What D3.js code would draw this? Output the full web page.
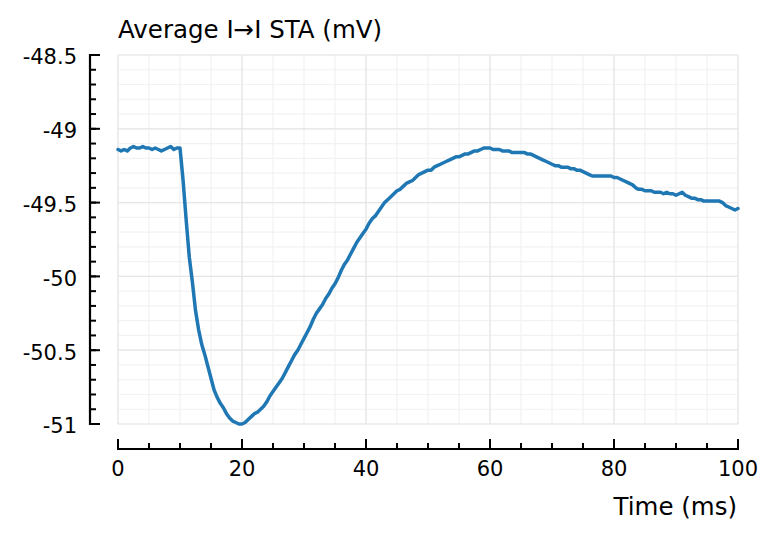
<!DOCTYPE html>
<html>
<head>
<meta charset="utf-8">
<script src="https://cdn.jsdelivr.net/npm/d3@7"></script>
<style>
  html, body { margin: 0; padding: 0; background: #fff; }
  svg { display: block; }
  text { font-family: "DejaVu Sans", sans-serif; fill: #000; }
</style>
</head>
<body>
<svg id="chart" width="779" height="540"></svg>
<script>
// ---- data ----
const title = "Average I\u2192I STA (mV)";
const xLabel = "Time (ms)";
const timeStep = 0.5; // ms between samples
const staValues = [
  -49.14,-49.15,-49.14,-49.15,-49.13,-49.12,-49.13,-49.13,-49.12,-49.13,
  -49.13,-49.14,-49.13,-49.14,-49.15,-49.14,-49.13,-49.12,-49.14,-49.13,
  -49.13,-49.35,-49.62,-49.87,-50.04,-50.23,-50.36,-50.46,-50.53,-50.61,
  -50.69,-50.77,-50.82,-50.86,-50.89,-50.93,-50.96,-50.98,-50.99,-51.00,
  -51.00,-50.99,-50.97,-50.95,-50.93,-50.92,-50.90,-50.88,-50.85,-50.81,
  -50.78,-50.75,-50.72,-50.69,-50.65,-50.61,-50.57,-50.53,-50.50,-50.46,
  -50.42,-50.38,-50.34,-50.29,-50.25,-50.22,-50.19,-50.15,-50.12,-50.08,
  -50.05,-50.01,-49.96,-49.92,-49.89,-49.85,-49.81,-49.77,-49.74,-49.71,
  -49.68,-49.64,-49.61,-49.59,-49.56,-49.53,-49.50,-49.48,-49.46,-49.44,
  -49.42,-49.41,-49.39,-49.37,-49.36,-49.35,-49.33,-49.31,-49.30,-49.29,
  -49.28,-49.28,-49.26,-49.25,-49.24,-49.23,-49.22,-49.21,-49.20,-49.19,
  -49.19,-49.18,-49.17,-49.17,-49.16,-49.15,-49.15,-49.14,-49.13,-49.13,
  -49.13,-49.14,-49.14,-49.14,-49.15,-49.15,-49.15,-49.16,-49.16,-49.16,
  -49.16,-49.16,-49.17,-49.17,-49.18,-49.19,-49.20,-49.21,-49.22,-49.23,
  -49.24,-49.25,-49.25,-49.26,-49.26,-49.26,-49.27,-49.27,-49.28,-49.28,
  -49.29,-49.30,-49.31,-49.32,-49.32,-49.32,-49.32,-49.32,-49.32,-49.32,
  -49.33,-49.33,-49.34,-49.35,-49.36,-49.37,-49.38,-49.40,-49.41,-49.41,
  -49.42,-49.42,-49.42,-49.43,-49.43,-49.43,-49.44,-49.43,-49.44,-49.44,
  -49.45,-49.44,-49.43,-49.45,-49.46,-49.47,-49.47,-49.48,-49.48,-49.49,
  -49.49,-49.49,-49.49,-49.49,-49.49,-49.50,-49.52,-49.53,-49.54,-49.55,
  -49.54
];
const xDomain = [0, 100];
const yDomain = [-51, -48.5];
const xMajorTicks = [0, 20, 40, 60, 80, 100];
const xMinorTicks = [0,5,10,15,20,25,30,35,40,45,50,55,60,65,70,75,80,85,90,95,100];
const yMajorTicks = [-51, -50.5, -50, -49.5, -49, -48.5];
const yMinorTicks = [-51,-50.9,-50.8,-50.7,-50.6,-50.5,-50.4,-50.3,-50.2,-50.1,-50,
  -49.9,-49.8,-49.7,-49.6,-49.5,-49.4,-49.3,-49.2,-49.1,-49,-48.9,-48.8,-48.7,-48.6,-48.5];
const yTickLabels = ["-51", "-50.5", "-50", "-49.5", "-49", "-48.5"];

// ---- layout ----
const plot = { left: 118, right: 738, top: 55, bottom: 424 };
const yAxisX = 90;
const xAxisY = 449;

const svg = d3.select("#chart");
const x = d3.scaleLinear().domain(xDomain).range([plot.left, plot.right]);
const y = d3.scaleLinear().domain(yDomain).range([plot.bottom, plot.top]);

// grid
const grid = svg.append("g");
grid.selectAll("line.vmin").data(xMinorTicks).join("line")
  .attr("x1", d => x(d)).attr("x2", d => x(d))
  .attr("y1", plot.top).attr("y2", plot.bottom)
  .attr("stroke", "#f2f2f2").attr("stroke-width", 1.2);
grid.selectAll("line.hmin").data(yMinorTicks).join("line")
  .attr("x1", plot.left).attr("x2", plot.right)
  .attr("y1", d => y(d)).attr("y2", d => y(d))
  .attr("stroke", "#f2f2f2").attr("stroke-width", 1.2);
grid.selectAll("line.vmaj").data(xMajorTicks).join("line")
  .attr("x1", d => x(d)).attr("x2", d => x(d))
  .attr("y1", plot.top).attr("y2", plot.bottom)
  .attr("stroke", "#e6e6e6").attr("stroke-width", 1.2);
grid.selectAll("line.hmaj").data(yMajorTicks).join("line")
  .attr("x1", plot.left).attr("x2", plot.right)
  .attr("y1", d => y(d)).attr("y2", d => y(d))
  .attr("stroke", "#e6e6e6").attr("stroke-width", 1.2);

// line
const line = d3.line()
  .x((d, i) => x(i * timeStep))
  .y(d => y(d));
svg.append("path")
  .datum(staValues)
  .attr("d", line)
  .attr("fill", "none")
  .attr("stroke", "#1f77b4")
  .attr("stroke-width", 3.5)
  .attr("stroke-linejoin", "round")
  .attr("stroke-linecap", "round");

// y axis (detached spine)
const yAxis = svg.append("g");
yAxis.append("line")
  .attr("x1", yAxisX).attr("x2", yAxisX)
  .attr("y1", y(yDomain[0]) + 1).attr("y2", y(yDomain[1]) - 1)
  .attr("stroke", "#000").attr("stroke-width", 2.2);
yAxis.selectAll("line.ymin").data(yMinorTicks).join("line")
  .attr("x1", yAxisX).attr("x2", yAxisX + 6)
  .attr("y1", d => y(d)).attr("y2", d => y(d))
  .attr("stroke", "#000").attr("stroke-width", 2);
yAxis.selectAll("line.ymaj").data(yMajorTicks).join("line")
  .attr("x1", yAxisX).attr("x2", yAxisX + 10)
  .attr("y1", d => y(d)).attr("y2", d => y(d))
  .attr("stroke", "#000").attr("stroke-width", 2);
yAxis.selectAll("text").data(yMajorTicks).join("text")
  .attr("x", 77).attr("y", d => y(d))
  .attr("dy", "0.45em")
  .attr("text-anchor", "end")
  .attr("font-size", 21)
  .text((d, i) => yTickLabels[i]);

// x axis (detached spine)
const xAxis = svg.append("g");
xAxis.append("line")
  .attr("x1", x(xDomain[0]) - 1).attr("x2", x(xDomain[1]) + 1)
  .attr("y1", xAxisY).attr("y2", xAxisY)
  .attr("stroke", "#000").attr("stroke-width", 2.2);
xAxis.selectAll("line.xmin").data(xMinorTicks).join("line")
  .attr("x1", d => x(d)).attr("x2", d => x(d))
  .attr("y1", xAxisY).attr("y2", xAxisY - 6)
  .attr("stroke", "#000").attr("stroke-width", 2);
xAxis.selectAll("line.xmaj").data(xMajorTicks).join("line")
  .attr("x1", d => x(d)).attr("x2", d => x(d))
  .attr("y1", xAxisY).attr("y2", xAxisY - 10)
  .attr("stroke", "#000").attr("stroke-width", 2);
xAxis.selectAll("text").data(xMajorTicks).join("text")
  .attr("x", d => x(d)).attr("y", 476)
  .attr("text-anchor", "middle")
  .attr("font-size", 21)
  .text(d => String(d));

// labels
svg.append("text")
  .attr("x", 737).attr("y", 515)
  .attr("text-anchor", "end")
  .attr("font-size", 24.5)
  .text(xLabel);
svg.append("text")
  .attr("x", 118).attr("y", 38)
  .attr("font-size", 24.5)
  .text(title);
</script>
</body>
</html>
